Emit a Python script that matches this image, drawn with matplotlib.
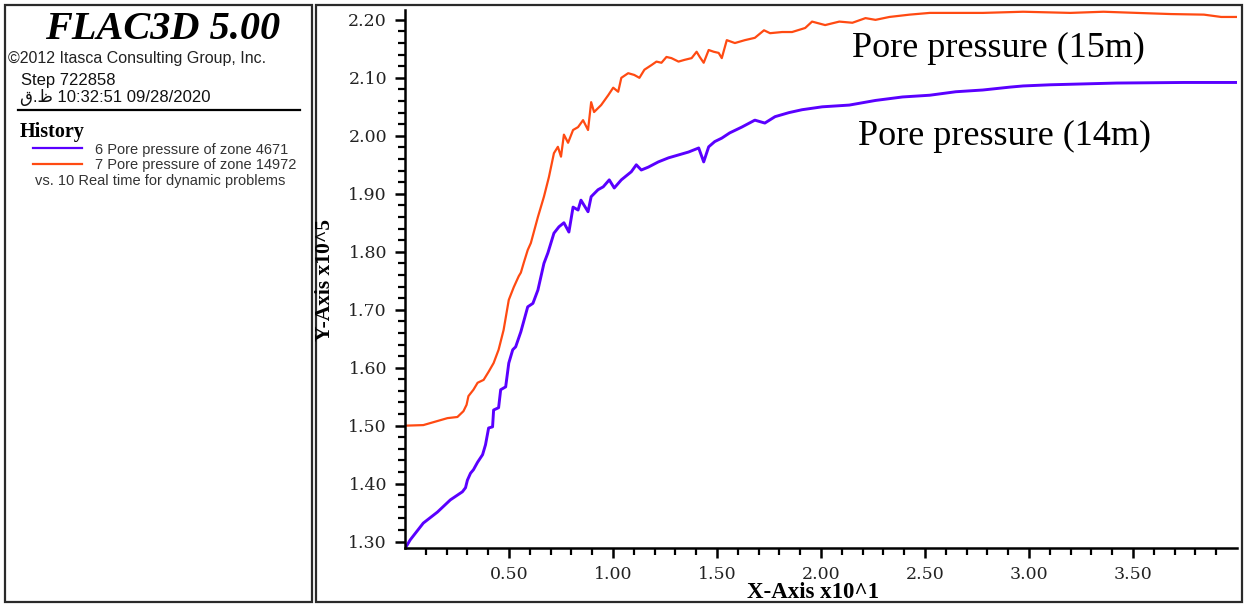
import numpy as np
import matplotlib
matplotlib.use("Agg")
import matplotlib.pyplot as plt
from matplotlib.patches import Rectangle
from matplotlib.ticker import FixedLocator, FormatStrFormatter

# time (x10^1 s) and pore pressure (x10^5 Pa) histories
t_15m = [0.0, 0.088, 0.204, 0.252, 0.281, 0.296, 0.305, 0.329, 0.349, 0.378,
         0.402, 0.426, 0.450, 0.474, 0.499, 0.523, 0.547, 0.557, 0.571, 0.590,
         0.605, 0.639, 0.668, 0.692, 0.716, 0.735, 0.750, 0.764, 0.784, 0.808,
         0.832, 0.856, 0.880, 0.895, 0.909, 0.943, 0.977, 1.001, 1.025, 1.040,
         1.073, 1.102, 1.127, 1.151, 1.185, 1.209, 1.233, 1.257, 1.281, 1.315,
         1.344, 1.378, 1.402, 1.417, 1.436, 1.460, 1.484, 1.508, 1.523, 1.547,
         1.586, 1.634, 1.682, 1.726, 1.755, 1.813, 1.861, 1.924, 1.957, 2.020,
         2.088, 2.151, 2.214, 2.262, 2.329, 2.426, 2.523, 2.648, 2.778, 2.972,
         3.199, 3.358, 3.518, 3.682, 3.841, 3.924, 4.0]
pp_15m = [1.500, 1.501, 1.513, 1.515, 1.525, 1.536, 1.551, 1.562, 1.574, 1.579,
          1.593, 1.608, 1.631, 1.665, 1.717, 1.739, 1.758, 1.764, 1.781, 1.803,
          1.815, 1.860, 1.895, 1.929, 1.970, 1.981, 1.964, 2.002, 1.988, 2.010,
          2.015, 2.027, 2.010, 2.058, 2.041, 2.053, 2.070, 2.083, 2.076, 2.100,
          2.108, 2.105, 2.100, 2.114, 2.122, 2.128, 2.126, 2.136, 2.134, 2.128,
          2.131, 2.134, 2.145, 2.136, 2.126, 2.148, 2.145, 2.143, 2.134, 2.165,
          2.160, 2.165, 2.169, 2.182, 2.177, 2.179, 2.179, 2.186, 2.197, 2.191,
          2.197, 2.195, 2.203, 2.200, 2.205, 2.209, 2.212, 2.212, 2.212, 2.214,
          2.212, 2.214, 2.212, 2.210, 2.209, 2.205, 2.205]

t_14m = [0.0, 0.025, 0.088, 0.156, 0.218, 0.276, 0.291, 0.300, 0.315, 0.329,
         0.349, 0.373, 0.387, 0.402, 0.421, 0.426, 0.450, 0.460, 0.484, 0.499,
         0.518, 0.532, 0.557, 0.590, 0.615, 0.639, 0.668, 0.687, 0.716, 0.740,
         0.764, 0.788, 0.808, 0.832, 0.846, 0.880, 0.895, 0.928, 0.953, 0.982,
         1.006, 1.040, 1.088, 1.112, 1.136, 1.170, 1.218, 1.267, 1.315, 1.363,
         1.412, 1.436, 1.460, 1.489, 1.523, 1.561, 1.619, 1.682, 1.730, 1.779,
         1.846, 1.909, 2.006, 2.136, 2.262, 2.392, 2.523, 2.648, 2.778, 2.909,
         2.972, 3.102, 3.421, 3.745, 4.0]
pp_14m = [1.288, 1.303, 1.332, 1.351, 1.372, 1.386, 1.393, 1.406, 1.418, 1.424,
          1.437, 1.450, 1.467, 1.496, 1.498, 1.527, 1.531, 1.562, 1.567, 1.608,
          1.631, 1.636, 1.662, 1.705, 1.711, 1.734, 1.780, 1.798, 1.832, 1.843,
          1.850, 1.834, 1.877, 1.872, 1.889, 1.869, 1.895, 1.907, 1.912, 1.924,
          1.910, 1.924, 1.938, 1.950, 1.941, 1.946, 1.955, 1.962, 1.967, 1.972,
          1.979, 1.955, 1.981, 1.990, 1.996, 2.005, 2.015, 2.027, 2.022, 2.033,
          2.040, 2.045, 2.050, 2.053, 2.061, 2.067, 2.070, 2.076, 2.079, 2.084,
          2.086, 2.088, 2.091, 2.092, 2.092]

x_major = [0.5, 1.0, 1.5, 2.0, 2.5, 3.0, 3.5]
y_major = [1.3, 1.4, 1.5, 1.6, 1.7, 1.8, 1.9, 2.0, 2.1, 2.2]

hist_labels = ['6 Pore pressure of zone 4671', '7 Pore pressure of zone 14972']
c_14m = '#5a00ff'
c_15m = '#ff4a12'

W, H = 1245, 604
fig = plt.figure(figsize=(W / 100, H / 100), dpi=100)

def fx(px):
    return px / W

def fy(py):
    return 1 - py / H

# panel frames
for x0, x1 in [(5, 312), (316, 1242)]:
    fig.patches.append(Rectangle((fx(x0), fy(602)), fx(x1) - fx(x0), fy(5) - fy(602),
                                 transform=fig.transFigure, fill=False,
                                 edgecolor='#2a2a2a', linewidth=1.6))

# info panel on the left, coordinates in pixels from its top-left corner
ax_info = fig.add_axes([fx(6), fy(601), fx(311) - fx(6), fy(6) - fy(601)])
ax_info.set_xlim(0, 305)
ax_info.set_ylim(595, 0)
ax_info.axis('off')

ax_info.text(157, 33, 'FLAC3D 5.00', family='Liberation Serif', weight='bold',
             style='italic', size=29, ha='center', va='baseline')
ax_info.text(2, 56.5, '\u00a92012 Itasca Consulting Group, Inc.', family='Liberation Sans',
             size=11.5, va='baseline', color='#222', clip_on=True)
ax_info.text(15, 79, 'Step 722858', family='Liberation Sans', size=12,
             va='baseline', color='#111')
ax_info.text(14, 96, '\u0642.\u0638 10:32:51 09/28/2020',
             family=['Liberation Sans', 'DejaVu Sans'], size=12,
             va='baseline', color='#111')
ax_info.plot([12, 294], [104, 104], color='black', lw=1.6)
ax_info.text(14, 131, 'History', family='Liberation Serif', weight='bold',
             size=14.5, va='baseline')
ax_info.plot([27, 76], [142, 142], color=c_14m, lw=1.6)
ax_info.plot([27, 76], [158, 158], color=c_15m, lw=1.6)
ax_info.text(89, 148, hist_labels[0], family='Liberation Sans', size=10.5,
             va='baseline', color='#333', clip_on=True)
ax_info.text(89, 163, hist_labels[1], family='Liberation Sans', size=10.5,
             va='baseline', color='#333', clip_on=True)
ax_info.text(29, 179, 'vs. 10 Real time for dynamic problems', family='Liberation Sans',
             size=10.5, va='baseline', color='#333', clip_on=True)

# history plot
ax = fig.add_axes([fx(405), fy(548), fx(1237) - fx(405), fy(10) - fy(548)])
ax.plot(t_14m, pp_14m, color=c_14m, lw=2.1, solid_joinstyle='round')
ax.plot(t_15m, pp_15m, color=c_15m, lw=1.6, solid_joinstyle='round')
ax.set_xlim(0, 4.0)
ax.set_ylim(1.289, 2.217)

for s in ['top', 'right']:
    ax.spines[s].set_visible(False)
for s in ['left', 'bottom']:
    ax.spines[s].set_linewidth(1.8)

ax.xaxis.set_major_locator(FixedLocator(x_major))
ax.xaxis.set_minor_locator(FixedLocator([k / 10 for k in range(1, 40) if k % 5]))
ax.yaxis.set_major_locator(FixedLocator(y_major))
ax.yaxis.set_minor_locator(FixedLocator([1.3 + k * 0.02 for k in range(46) if k % 5]))
ax.xaxis.set_major_formatter(FormatStrFormatter('%.2f'))
ax.yaxis.set_major_formatter(FormatStrFormatter('%.2f'))
ax.tick_params(which='major', direction='out', length=7, width=1.8, pad=6,
               labelsize=12.5, labelcolor='#222')
ax.tick_params(which='minor', direction='out', length=5, width=1.6)
for lab in ax.get_xticklabels() + ax.get_yticklabels():
    lab.set_family('DejaVu Serif')

fig.text(fx(813), fy(592), 'X-Axis x10^1', family='Liberation Serif', weight='bold',
         size=16.5, ha='center', va='center')
fig.text(fx(325), fy(280), 'Y-Axis x10^5', family='Liberation Serif', weight='bold',
         size=15.5, ha='center', va='center', rotation=90)

fig.text(fx(852), fy(57), 'Pore pressure (15m)', family='Liberation Serif',
         size=26, va='baseline')
fig.text(fx(858), fy(145), 'Pore pressure (14m)', family='Liberation Serif',
         size=26, va='baseline')

fig.savefig('out.png', dpi=100)
